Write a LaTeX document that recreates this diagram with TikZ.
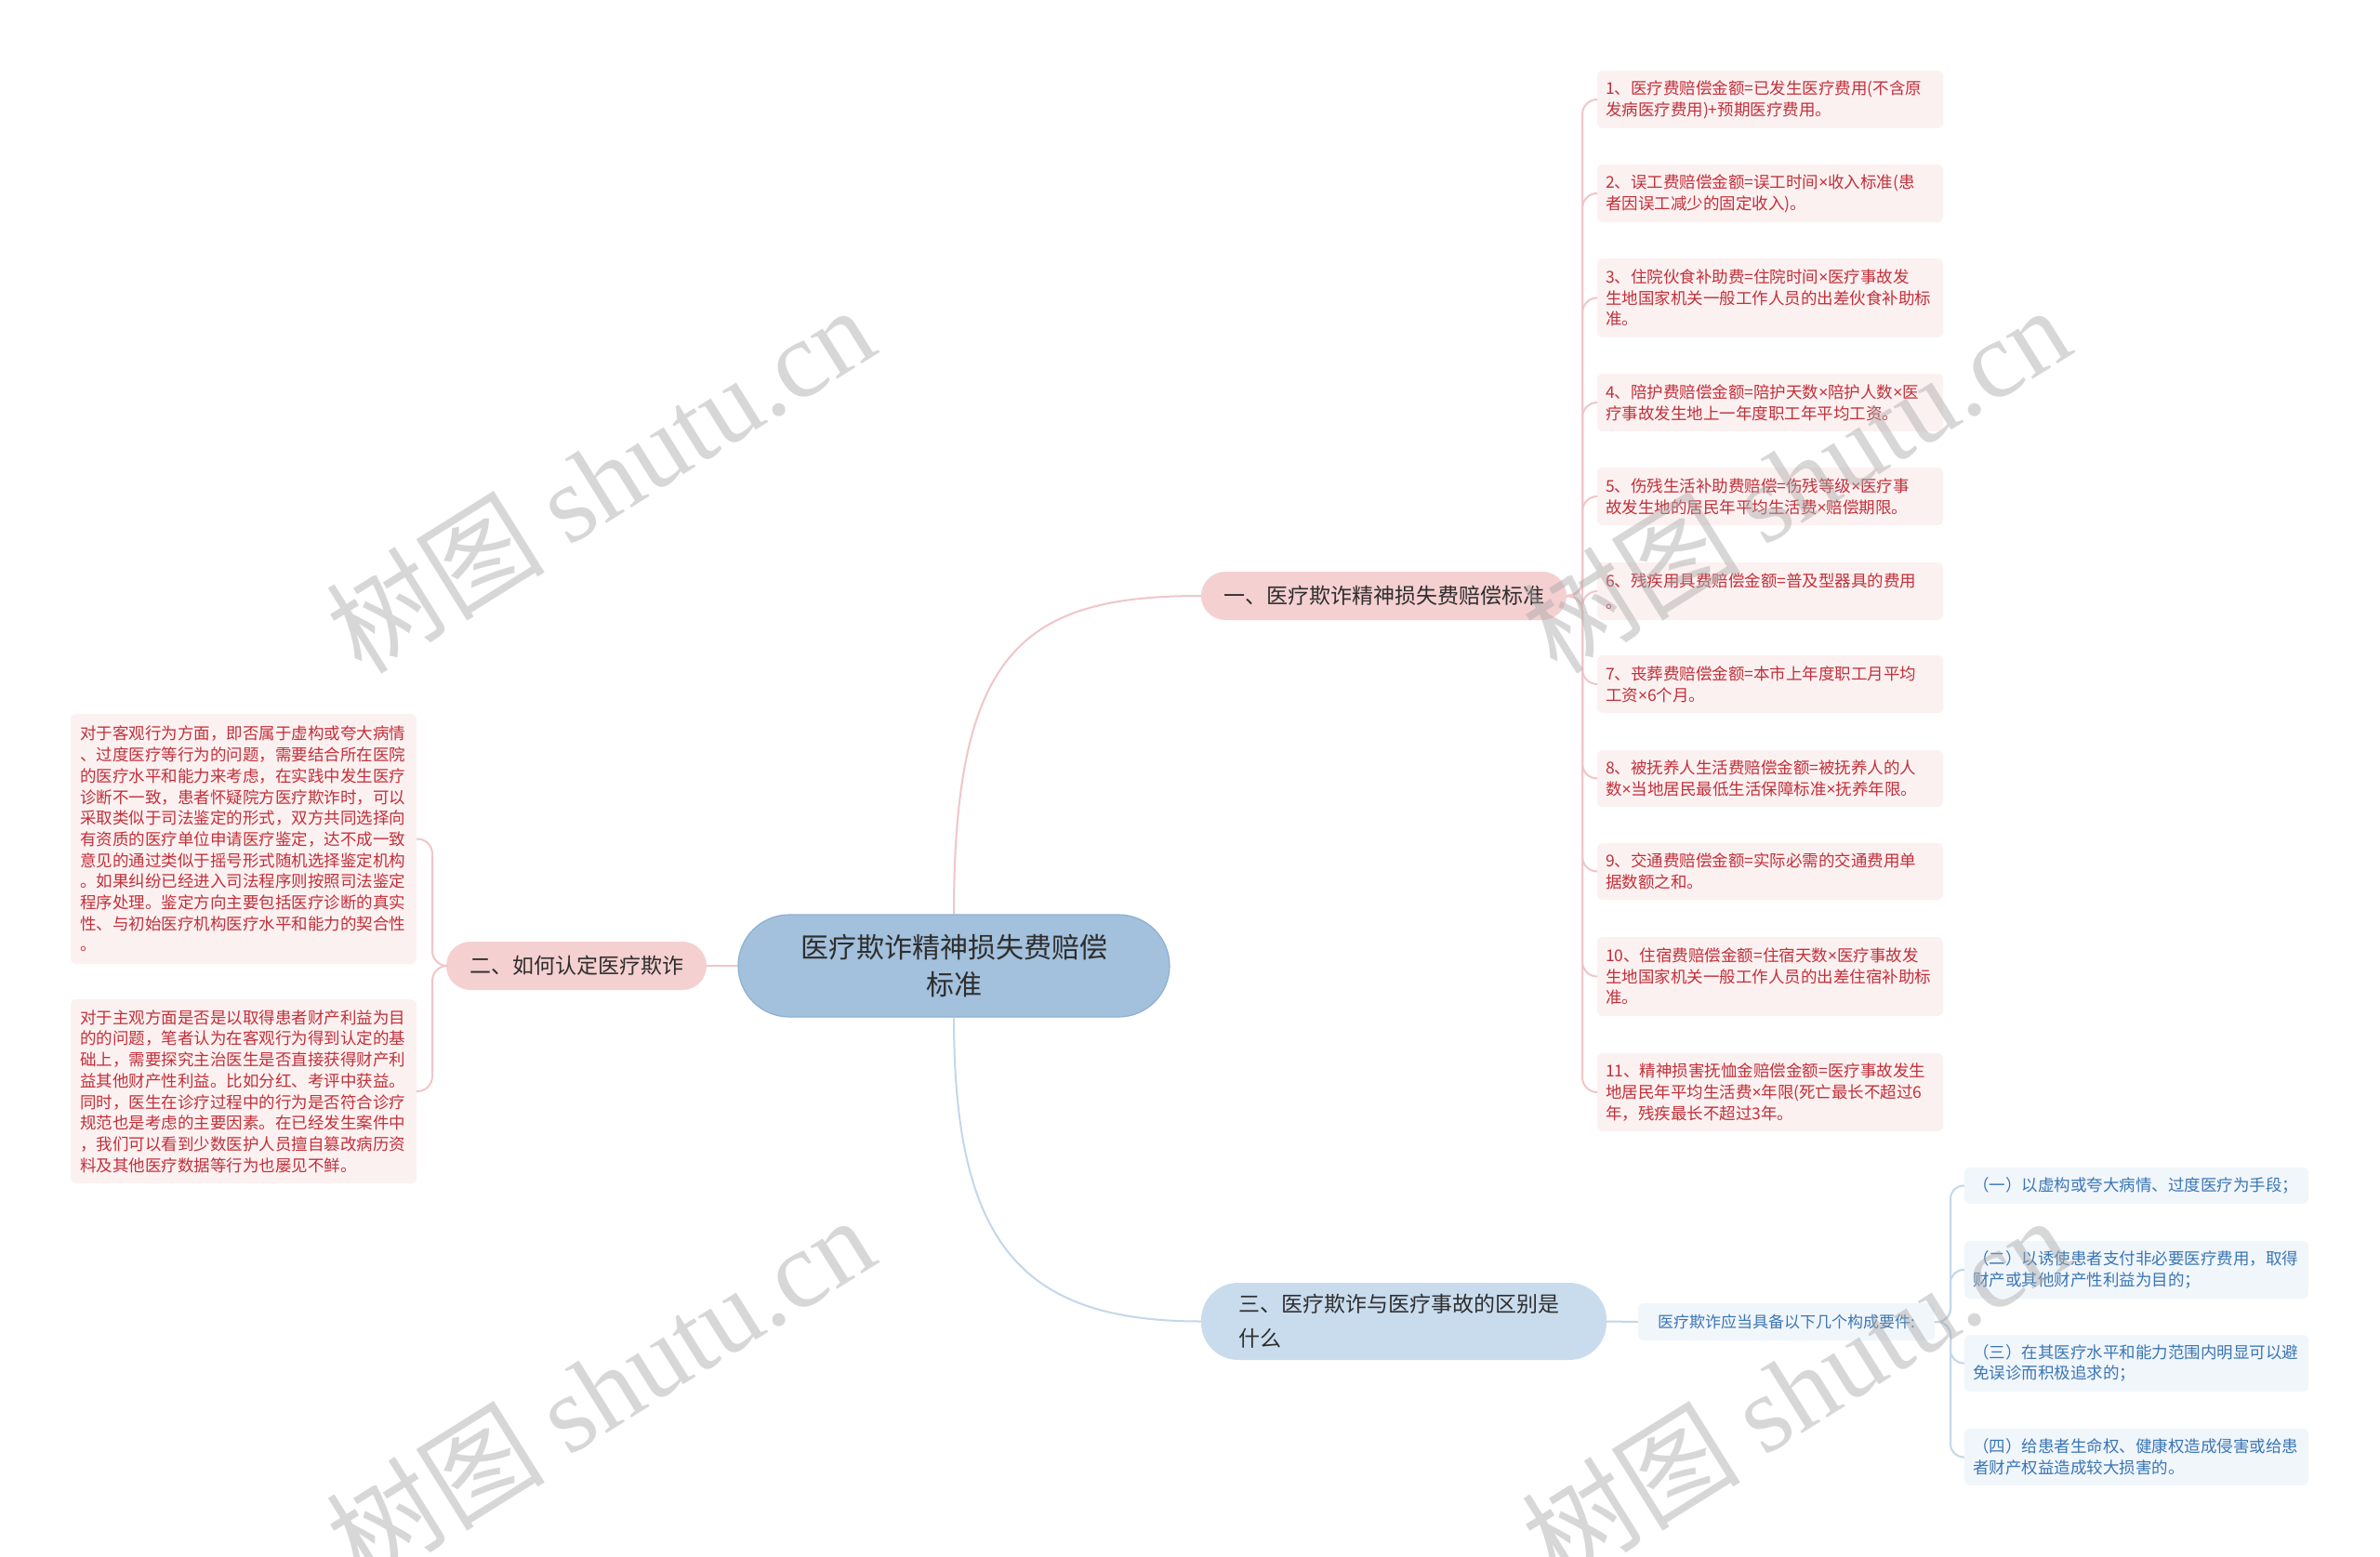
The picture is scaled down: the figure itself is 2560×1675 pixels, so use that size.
\documentclass[tikz,border=0pt]{standalone}
\usepackage{fontspec}
\setmainfont{Noto Sans CJK SC}
\newfontfamily\wmserif{Liberation Serif}
\newfontfamily\latinsans{Noto Sans}
\newcommand\xmul{{\latinsans ×}}
\usetikzlibrary{calc}

\definecolor{pinkfill}{HTML}{F5D0D1}
\definecolor{pinkline}{HTML}{F0C6C8}
\definecolor{leafRfill}{HTML}{FCF1F1}
\definecolor{leafRtext}{HTML}{C2303A}
\definecolor{centerfill}{HTML}{A3C0DC}
\definecolor{centerdraw}{HTML}{8DB0D2}
\definecolor{bluefill}{HTML}{C9DCEE}
\definecolor{blueline}{HTML}{C4D7EA}
\definecolor{leafBfill}{HTML}{F1F6FB}
\definecolor{leafBtext}{HTML}{3A76B5}
\definecolor{darktext}{HTML}{2E2E2E}
\definecolor{wmgray}{HTML}{A8A8A8}

\tikzset{
  leafR/.style={fill=leafRfill, rounded corners=6pt, text=leafRtext,
    font=\fontsize{17.5pt}{22.7pt}\selectfont, align=left, text width=354pt,
    inner xsep=9pt, inner ysep=0pt, minimum width=372pt},
  leafL/.style={leafR, text width=352pt},
  leafB/.style={fill=leafBfill, rounded corners=6pt, text=leafBtext,
    font=\fontsize{17.5pt}{22.7pt}\selectfont, align=left, text width=352pt,
    inner xsep=9pt, inner ysep=0pt, minimum width=370pt},
  topicpink/.style={fill=pinkfill, text=darktext, rounded corners=26pt,
    font=\fontsize{23pt}{28pt}\selectfont, inner sep=0pt, minimum height=52pt},
  centernode/.style={fill=centerfill, draw=centerdraw, line width=1.2pt,
    rounded corners=55pt, text=darktext, align=center,
    font=\fontsize{30pt}{40pt}\selectfont, inner sep=0pt,
    minimum width=464pt, minimum height=110pt},
  topicblue/.style={fill=bluefill, text=darktext, rounded corners=40pt,
    font=\fontsize{23pt}{37pt}\selectfont, align=left, text width=356pt,
    inner xsep=40pt, inner ysep=0pt, minimum height=83pt},
  reqnode/.style={fill=leafBfill, text=leafBtext, rounded corners=6pt,
    font=\fontsize{17pt}{20pt}\selectfont, inner sep=0pt,
    minimum width=319pt, minimum height=40pt},
  pinkconn/.style={draw=pinkline, line width=2pt},
  blueconn/.style={draw=blueline, line width=2pt},
  wm/.style={text=wmgray, opacity=0.45, rotate=32, inner sep=0pt}
}

\begin{document}
\begin{tikzpicture}[x=1pt,y=-1pt]
\useasboundingbox (0,0) rectangle (2560,1675);
\fill[white] (0,0) rectangle (2560,1675);
\clip (0,0) rectangle (2560,1675);

% central node
\node[centernode] (c) at (1026,1039) {医疗欺诈精神损失费赔偿\\标准};

% main topics
\node[topicpink, minimum width=393pt] (n1) at (1488.5,641) {一、医疗欺诈精神损失费赔偿标准};
\node[topicpink, minimum width=280pt] (n2) at (620,1039) {二、如何认定医疗欺诈};
\node[topicblue] (n3) at (1510,1421.5) {三、医疗欺诈与医疗事故的区别是\\什么};

% right leaves (topic 1)
\node[leafR, minimum height=62pt] (r1) at (1904,107) {1、医疗费赔偿金额=已发生医疗费用(不含原\\发病医疗费用)+预期医疗费用。};
\node[leafR, minimum height=62pt] (r2) at (1904,208) {2、误工费赔偿金额=误工时间\xmul 收入标准(患\\者因误工减少的固定收入)。};
\node[leafR, minimum height=85pt] (r3) at (1904,320.5) {3、住院伙食补助费=住院时间\xmul 医疗事故发\\生地国家机关一般工作人员的出差伙食补助标\\准。};
\node[leafR, minimum height=62pt] (r4) at (1904,433) {4、陪护费赔偿金额=陪护天数\xmul 陪护人数\xmul 医\\疗事故发生地上一年度职工年平均工资。};
\node[leafR, minimum height=62pt] (r5) at (1904,534) {5、伤残生活补助费赔偿=伤残等级\xmul 医疗事\\故发生地的居民年平均生活费\xmul 赔偿期限。};
\node[leafR, minimum height=62pt] (r6) at (1904,636) {6、残疾用具费赔偿金额=普及型器具的费用\\。};
\node[leafR, minimum height=62pt] (r7) at (1904,736) {7、丧葬费赔偿金额=本市上年度职工月平均\\工资\xmul 6个月。};
\node[leafR, minimum height=61pt] (r8) at (1904,837.5) {8、被抚养人生活费赔偿金额=被抚养人的人\\数\xmul 当地居民最低生活保障标准\xmul 抚养年限。};
\node[leafR, minimum height=61pt] (r9) at (1904,937.5) {9、交通费赔偿金额=实际必需的交通费用单\\据数额之和。};
\node[leafR, minimum height=85pt] (r10) at (1904,1050.5) {10、住宿费赔偿金额=住宿天数\xmul 医疗事故发\\生地国家机关一般工作人员的出差住宿补助标\\准。};
\node[leafR, minimum height=84pt] (r11) at (1904,1175) {11、精神损害抚恤金赔偿金额=医疗事故发生\\地居民年平均生活费\xmul 年限(死亡最长不超过6\\年，残疾最长不超过3年。};

% left leaves (topic 2)
\node[leafL, minimum height=269pt] (p1) at (262,902.5) {对于客观行为方面，即否属于虚构或夸大病情\\、过度医疗等行为的问题，需要结合所在医院\\的医疗水平和能力来考虑，在实践中发生医疗\\诊断不一致，患者怀疑院方医疗欺诈时，可以\\采取类似于司法鉴定的形式，双方共同选择向\\有资质的医疗单位申请医疗鉴定，达不成一致\\意见的通过类似于摇号形式随机选择鉴定机构\\。如果纠纷已经进入司法程序则按照司法鉴定\\程序处理。鉴定方向主要包括医疗诊断的真实\\性、与初始医疗机构医疗水平和能力的契合性\\。};
\node[leafL, minimum height=198pt] (p2) at (262,1174) {对于主观方面是否是以取得患者财产利益为目\\的的问题，笔者认为在客观行为得到认定的基\\础上，需要探究主治医生是否直接获得财产利\\益其他财产性利益。比如分红、考评中获益。\\同时，医生在诊疗过程中的行为是否符合诊疗\\规范也是考虑的主要因素。在已经发生案件中\\，我们可以看到少数医护人员擅自篡改病历资\\料及其他医疗数据等行为也屡见不鲜。};

% topic 3 children
\node[reqnode] (req) at (1921.5,1422) {医疗欺诈应当具备以下几个构成要件:};
\node[leafB, minimum height=39pt] (b1) at (2298,1275.5) {（一）以虚构或夸大病情、过度医疗为手段；};
\node[leafB, minimum height=62pt] (b2) at (2298,1366) {（二）以诱使患者支付非必要医疗费用，取得\\财产或其他财产性利益为目的；};
\node[leafB, minimum height=61pt] (b3) at (2298,1466.5) {（三）在其医疗水平和能力范围内明显可以避\\免误诊而积极追求的；};
\node[leafB, minimum height=61pt] (b4) at (2298,1567.5) {（四）给患者生命权、健康权造成侵害或给患\\者财产权益造成较大损害的。};

% trunk coordinates
\coordinate (t1) at (1702,641);
\coordinate (t2) at (465,1039);
\coordinate (t3) at (2098,1422);

% connectors
\draw[pinkconn] (c.north) .. controls (1026,700) and (1100,641) .. (n1.west);
\draw[pinkconn] (c.west) -- (n2.east);
\draw[blueconn] (c.south) .. controls (1026,1340) and (1100,1421.5) .. (n3.west);

\foreach \leaf in {r1,r2,r3,r4,r5,r6,r7,r8,r9,r10,r11}{
  \draw[pinkconn, rounded corners=16pt] (n1.east) -- (t1) |- (\leaf.west);
}
\foreach \leaf in {p1,p2}{
  \draw[pinkconn, rounded corners=16pt] (n2.west) -- (t2) |- (\leaf.east);
}
\draw[blueconn] (n3.east) -- (req.west);
\foreach \leaf in {b1,b2,b3,b4}{
  \draw[blueconn, rounded corners=14pt] (req.east) -- (t3) |- (\leaf.west);
}

% watermarks
\node[wm] (w1) at (645,515) {\fontsize{118pt}{126pt}\selectfont 树图 {\wmserif shutu.cn}};
\node[wm] (w2) at (1931,515) {\fontsize{118pt}{126pt}\selectfont 树图 {\wmserif shutu.cn}};
\node[wm] (w3) at (645,1494) {\fontsize{118pt}{126pt}\selectfont 树图 {\wmserif shutu.cn}};
\node[wm] (w4) at (1931,1494) {\fontsize{118pt}{126pt}\selectfont 树图 {\wmserif shutu.cn}};
\end{tikzpicture}
\end{document}
